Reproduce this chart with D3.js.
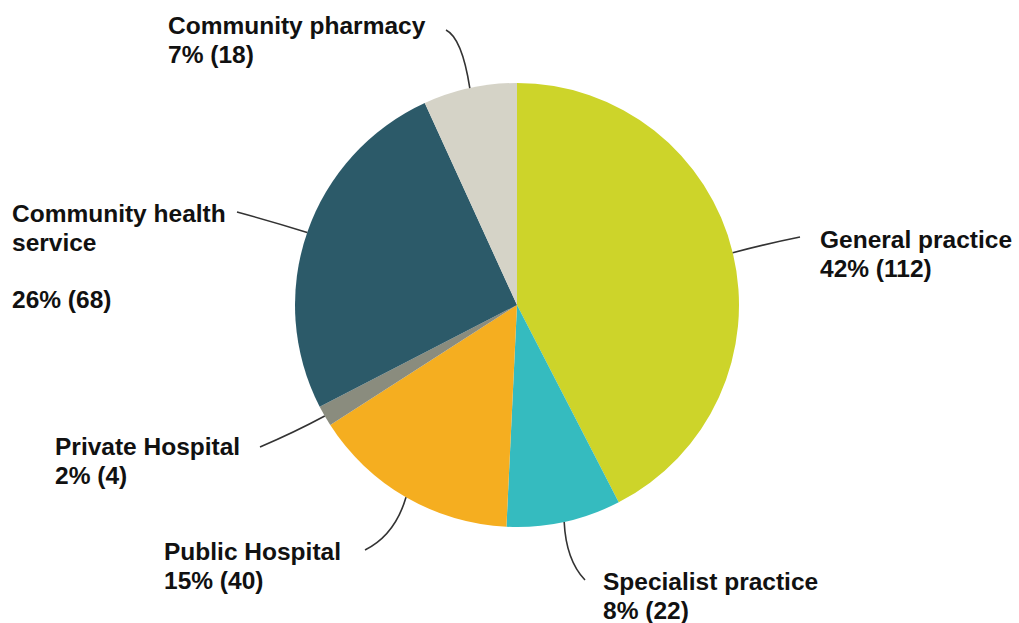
<!DOCTYPE html>
<html><head><meta charset="utf-8">
<script src="https://cdn.jsdelivr.net/npm/d3@7"></script>
<style>body{margin:0;background:#fff}svg{display:block}text{font-family:"Liberation Sans",Arial,sans-serif;font-weight:bold;fill:#111}</style>
</head><body>
<script>
const categories = ["General practice","Specialist practice","Public Hospital","Private Hospital","Community health service","Community pharmacy"];
const counts = [112, 22, 40, 4, 68, 18];
const percents = ["42%","8%","15%","2%","26%","7%"];
const colors = ["#cdd42a","#35bbbf","#f5ae20","#8a8c7e","#2c5a69","#d5d3c7"];

// layout (label text lines & positions)
const labelLines = [
  ["General practice", "42% (112)"],
  ["Specialist practice", "8% (22)"],
  ["Public Hospital", "15% (40)"],
  ["Private Hospital", "2% (4)"],
  ["Community health", "service", "", "26% (68)"],
  ["Community pharmacy", "7% (18)"]
];
const labelPos = [[820,248],[603,590],[164,560],[55,455],[12,222],[168,34]];
const lineEnd = [[800,237],[585,580],[365,550],[260,447],[237,212],[446,30]];
const lineCtrl = [[770,243],[566,560],[395,535],[295,432],[270,221],[462,38]];

const W=1019,H=623, cx=517, cy=305, R=222;
const svg=d3.select("body").append("svg").attr("width",W).attr("height",H);
const g=svg.append("g").attr("transform",`translate(${cx},${cy})`);
const pie=d3.pie().sort(null).value(d=>d)(counts);
const arc=d3.arc().innerRadius(0).outerRadius(R);
g.selectAll("path.s").data(pie).join("path").attr("class","s")
  .attr("d",arc).attr("fill",(d,i)=>colors[i]);

pie.forEach((d,i)=>{
  const a=(d.startAngle+d.endAngle)/2;
  const sx=cx+R*Math.sin(a), sy=cy-R*Math.cos(a);
  const p=d3.path();
  p.moveTo(sx,sy);
  p.quadraticCurveTo(lineCtrl[i][0],lineCtrl[i][1],lineEnd[i][0],lineEnd[i][1]);
  svg.append("path").attr("d",p.toString()).attr("fill","none").attr("stroke","#333").attr("stroke-width",1.6);
  const t=svg.append("text").attr("x",labelPos[i][0]).attr("y",labelPos[i][1]).style("font-size","24.5px");
  labelLines[i].forEach((s,j)=>{
    t.append("tspan").attr("x",labelPos[i][0]).attr("dy",j?28.5:0).text(s||"\u00a0");
  });
});
</script>
</body></html>
